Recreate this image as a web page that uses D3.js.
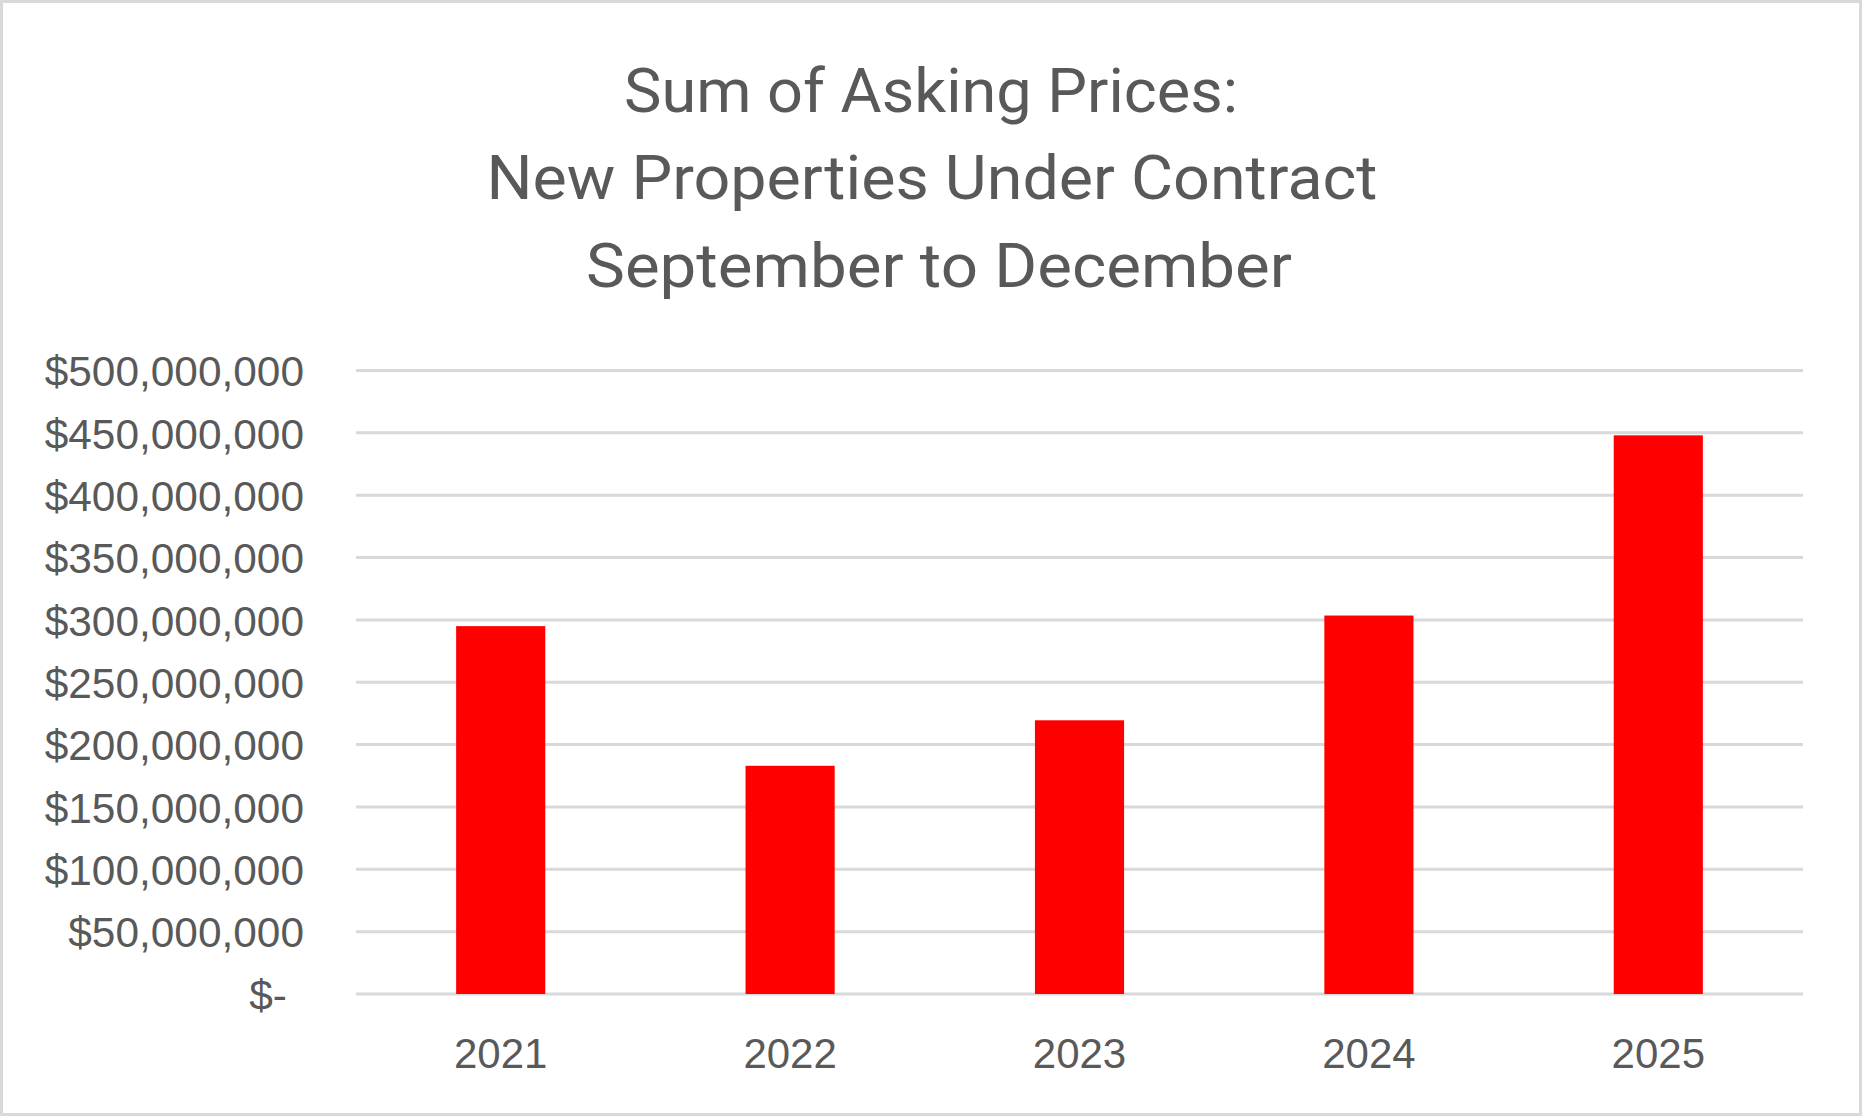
<!DOCTYPE html>
<html>
<head>
<meta charset="utf-8">
<script src="https://cdn.jsdelivr.net/npm/d3@7"></script>
<style>
  html, body { margin: 0; padding: 0; background: #ffffff; }
  svg { display: block; }
</style>
</head>
<body>
<svg id="chart" width="1862" height="1116"></svg>
<script>
const titleLines = ["Sum of Asking Prices:", "New Properties Under Contract", "September to December"];
const years = ["2021", "2022", "2023", "2024", "2025"];
const values = [295000000, 183000000, 219500000, 303500000, 448000000];
const yTicks = [0, 50000000, 100000000, 150000000, 200000000, 250000000, 300000000, 350000000, 400000000, 450000000, 500000000];

const W = 1862, H = 1116;
const margin = { left: 356, right: 59, top: 370.5, bottom: 122 };
const textColor = "#595959";
const gridColor = "#d9d9d9";
const barColor = "#ff0000";

const svg = d3.select("#chart");

svg.append("rect")
  .attr("x", 1.5).attr("y", 1.5)
  .attr("width", W - 3).attr("height", H - 3)
  .attr("fill", "#ffffff")
  .attr("stroke", gridColor).attr("stroke-width", 3);

const x = d3.scaleBand()
  .domain(years)
  .range([margin.left, W - margin.right])
  .paddingInner(0.692)
  .paddingOuter(0.346);

const y = d3.scaleLinear()
  .domain([0, 500000000])
  .range([H - margin.bottom, margin.top]);

// gridlines
svg.append("g")
  .selectAll("line")
  .data(yTicks)
  .join("line")
  .attr("x1", margin.left)
  .attr("x2", W - margin.right)
  .attr("y1", d => y(d))
  .attr("y2", d => y(d))
  .attr("stroke", gridColor)
  .attr("stroke-width", 3);

// bars
svg.append("g")
  .selectAll("rect")
  .data(years.map((yr, i) => ({ yr, v: values[i] })))
  .join("rect")
  .attr("x", d => x(d.yr))
  .attr("width", x.bandwidth())
  .attr("y", d => y(d.v))
  .attr("height", d => y(0) - y(d.v))
  .attr("fill", barColor);

// y axis
const fmt = d3.format("$,");
const yAxis = d3.axisLeft(y)
  .tickValues(yTicks)
  .tickSize(0)
  .tickPadding(0)
  .tickFormat(d => d === 0 ? "$-" : fmt(d));

const gy = svg.append("g")
  .attr("transform", `translate(${304},0)`)
  .call(yAxis);
gy.select(".domain").remove();
gy.selectAll("text")
  .attr("fill", textColor)
  .attr("font-family", "'Liberation Sans', Arial, sans-serif")
  .attr("font-size", 42.4)
  .attr("dy", "0.36em")
  .attr("dx", d => d === 0 ? -17 : 0);

// x axis
const xAxis = d3.axisBottom(x).tickSize(0).tickPadding(0);
const gx = svg.append("g")
  .attr("transform", `translate(0,${y(0)})`)
  .call(xAxis);
gx.select(".domain").remove();
gx.selectAll("text")
  .attr("fill", textColor)
  .attr("font-family", "'Liberation Sans', Arial, sans-serif")
  .attr("font-size", 42)
  .attr("dy", 0)
  .attr("y", 74);

// title
const titleWidths = [614, 891, 706];
const titleBaselines = [112, 199, 287];
const titleShift = [0, 1, 8];
svg.append("g")
  .selectAll("text")
  .data(titleLines)
  .join("text")
  .attr("x", (d, i) => W / 2 + titleShift[i])
  .attr("y", (d, i) => titleBaselines[i])
  .attr("text-anchor", "middle")
  .attr("fill", textColor)
  .attr("font-family", "Roboto, 'Noto Sans', sans-serif")
  .attr("font-size", 62)
  .attr("textLength", (d, i) => titleWidths[i])
  .attr("lengthAdjust", "spacingAndGlyphs")
  .text(d => d);
</script>
</body>
</html>
